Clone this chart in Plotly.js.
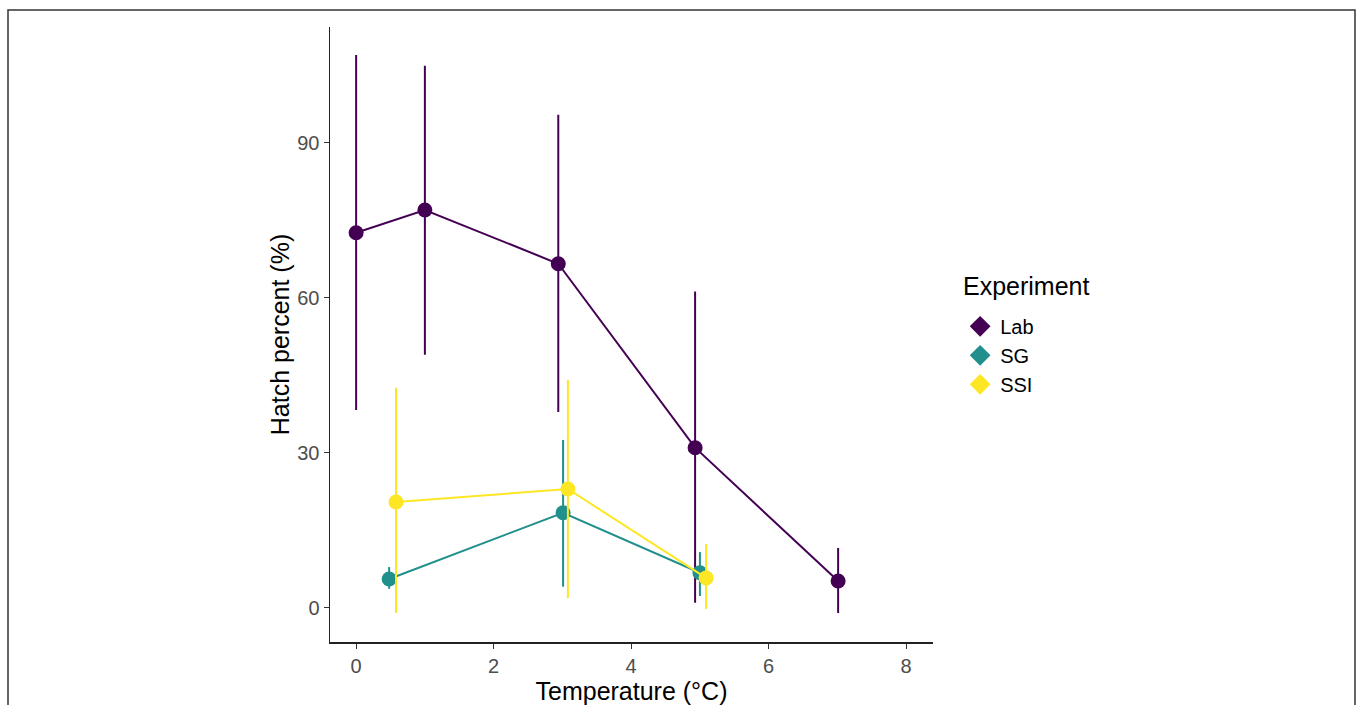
<!DOCTYPE html>
<html>
<head>
<meta charset="utf-8">
<script src="https://cdn.plot.ly/plotly-3.0.1.min.js"></script>
<style>
html,body{margin:0;padding:0;background:#fff;}
#chart{width:1360px;height:705px;}
</style>
</head>
<body>
<div id="chart"></div>
<script>
// Data
const experiments = ["Lab", "SG", "SSI"];
const colors = ["#440154", "#21908C", "#FDE725"];

const labTemp = [0, 1, 2.94, 4.93, 7.01];
const labHatch = [72.6, 77.0, 66.6, 31.0, 5.2];
const labUpper = [107.0, 104.9, 95.4, 61.2, 11.6];
const labLower = [38.3, 49.0, 37.9, 1.0, -1.0];

const sgTemp = [0.48, 3.01, 5.0];
const sgHatch = [5.6, 18.4, 6.8];
const sgUpper = [7.9, 32.5, 10.8];
const sgLower = [3.7, 4.1, 2.3];

const ssiTemp = [0.58, 3.08, 5.09];
const ssiHatch = [20.5, 23.0, 5.8];
const ssiUpper = [42.6, 44.1, 12.4];
const ssiLower = [-1.0, 1.9, -0.2];

const xTicks = [0, 2, 4, 6, 8];
const yTicks = [0, 30, 60, 90];

function mk(name, color, x, y, up, lo) {
  return {
    type: "scatter", mode: "lines+markers", name: name,
    x: x, y: y, showlegend: false,
    line: {color: color, width: 2},
    marker: {color: color, size: 15, symbol: "circle"},
    error_y: {
      type: "data", symmetric: false,
      array: y.map((v, i) => up[i] - v),
      arrayminus: y.map((v, i) => v - lo[i]),
      color: color, thickness: 2, width: 0
    }
  };
}

function legendKey(name, color) {
  return {
    type: "scatter", mode: "markers", name: name,
    x: [null], y: [null], showlegend: true,
    marker: {color: color, size: 17, symbol: "diamond"}
  };
}

const traces = [
  mk(experiments[0], colors[0], labTemp, labHatch, labUpper, labLower),
  mk(experiments[1], colors[1], sgTemp, sgHatch, sgUpper, sgLower),
  mk(experiments[2], colors[2], ssiTemp, ssiHatch, ssiUpper, ssiLower),
  legendKey(experiments[0], colors[0]),
  legendKey(experiments[1], colors[1]),
  legendKey(experiments[2], colors[2])
];

const axisCommon = {
  showgrid: false, zeroline: false, showline: true,
  linecolor: "#222", linewidth: 1.5,
  ticks: "outside", ticklen: 5, tickwidth: 1.2, tickcolor: "#333",
  tickfont: {family: "Liberation Sans, Arial, sans-serif", size: 20, color: "#4D4D4D"}
};

const layout = {
  width: 1360, height: 705,
  paper_bgcolor: "#fff", plot_bgcolor: "#fff",
  margin: {l: 330, r: 427, t: 27, b: 63},
  font: {family: "Liberation Sans, Arial, sans-serif"},
  xaxis: Object.assign({}, axisCommon, {
    range: [-0.38, 8.39], tickvals: xTicks, ticktext: xTicks.map(String),
    title: {text: "Temperature (°C)", font: {size: 25, color: "#000"}, standoff: 6}
  }),
  yaxis: Object.assign({}, axisCommon, {
    range: [-6.6, 112.4], tickvals: yTicks, ticktext: yTicks.map(String),
    title: {text: "Hatch percent (%)", font: {size: 25, color: "#000"}, standoff: 0}
  }),
  showlegend: true,
  legend: {
    x: 1.045, y: 0.545, xanchor: "left", yanchor: "top",
    font: {size: 20, color: "#000"},
    itemwidth: 30, tracegroupgap: 0, bgcolor: "rgba(0,0,0,0)"
  },
  annotations: [{
    text: "Experiment", xref: "paper", yref: "paper",
    x: (961 - 330) / 603, y: (642 - 286) / 615,
    xanchor: "left", yanchor: "middle", showarrow: false,
    font: {size: 25, color: "#000"}
  }],
  shapes: [{
    type: "rect", xref: "paper", yref: "paper",
    x0: (8 - 330) / 603, x1: (1355 - 330) / 603,
    y0: -0.2, y1: (642 - 10) / 615,
    line: {color: "#333", width: 1.5}, fillcolor: "rgba(0,0,0,0)", layer: "below"
  }]
};

Plotly.newPlot("chart", traces, layout, {staticPlot: true, displayModeBar: false});
</script>
</body>
</html>
